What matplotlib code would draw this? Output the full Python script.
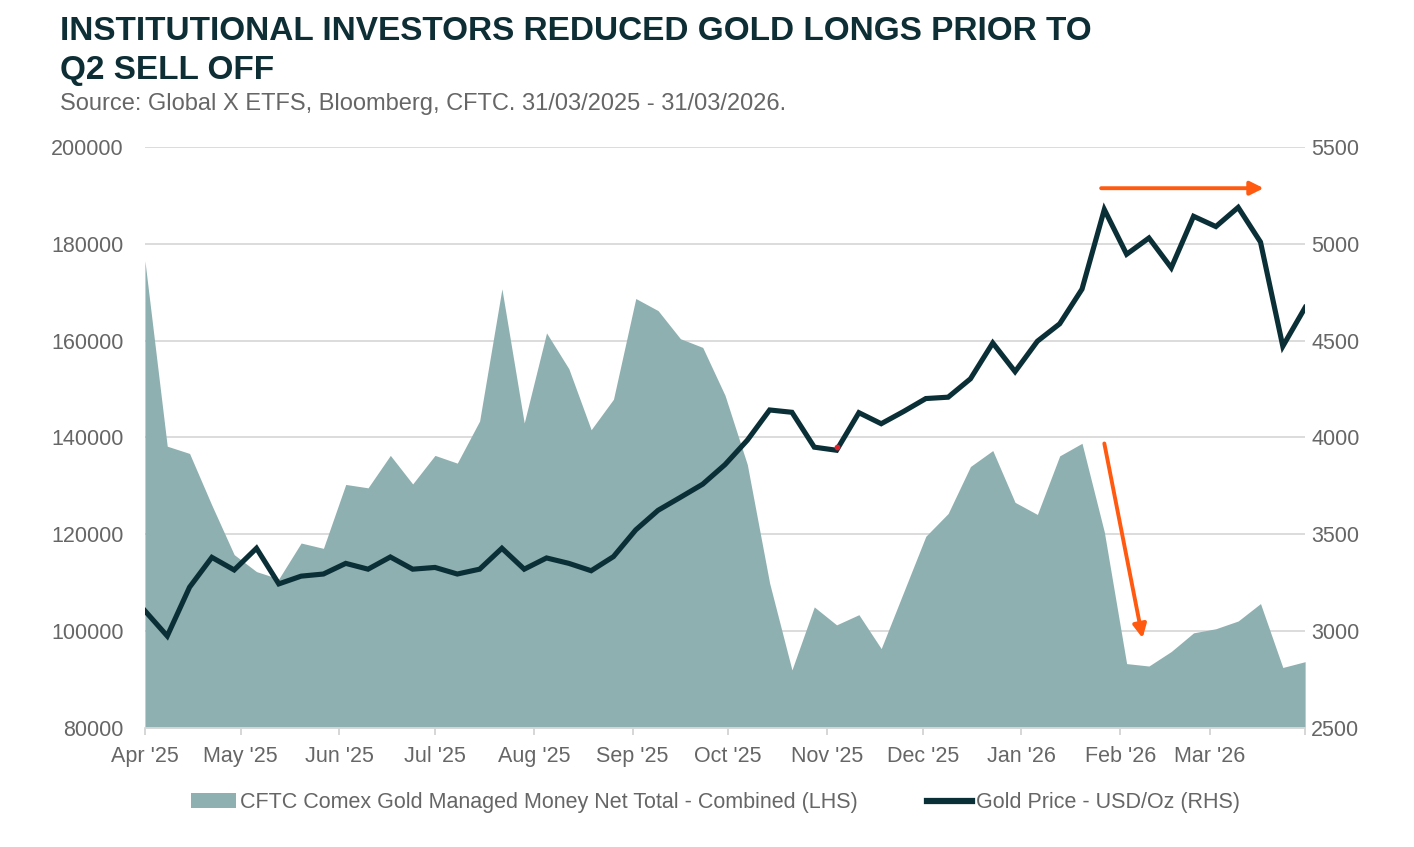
import numpy as np
import pandas as pd
import matplotlib
matplotlib.use("Agg")
import matplotlib.pyplot as plt
import matplotlib.dates as mdates
from matplotlib.patches import Patch
from matplotlib.lines import Line2D

# weekly observations, 01/04/2025 .. 31/03/2026
dates = pd.date_range("2025-04-01", periods=53, freq="7D")

net_longs = [
    176500, 138200, 136700, 126000, 115800, 112300, 110800, 118200, 117100, 130300,
    129600, 136300, 130400, 136300, 134700, 143400, 170700, 143000, 161600, 154200,
    141600, 147900, 168700, 166200, 160400, 158600, 148700, 134400, 109900, 92000,
    105000, 101300, 103400, 96400, 108000, 119600, 124300, 134000, 137300, 126600,
    124100, 136200, 138800, 120500, 93300, 92800, 95800, 99650, 100500, 102100,
    105700, 92500, 93700,
]

gold_price = [
    3105, 2975, 3227, 3381, 3316, 3428, 3244, 3284, 3295, 3350,
    3320, 3383, 3320, 3329, 3295, 3320, 3428, 3320, 3378, 3350,
    3312, 3385, 3523, 3624, 3691, 3759, 3860, 3986, 4142, 4130,
    3950, 3934, 4128, 4071, 4134, 4201, 4208, 4303, 4488, 4340,
    4497, 4587, 4766, 5177, 4946, 5030, 4876, 5142, 5089, 5188,
    5009, 4471, 4671,
]

left_ticks = [80000, 100000, 120000, 140000, 160000, 180000, 200000]
right_ticks = [2500, 3000, 3500, 4000, 4500, 5000, 5500]

AREA = "#8FB0B0"
LINE = "#0B2F36"
ORANGE = "#FF5A10"
TXT = "#666666"
TITLE = "#0E2E35"

plt.rcParams["font.family"] = ["Liberation Sans", "DejaVu Sans"]

fig = plt.figure(figsize=(14.14, 8.47), dpi=100)
ax = fig.add_axes([0.1025, 0.1405, 0.8205, 0.686])
ax2 = ax.twinx()

ax.fill_between(dates, net_longs, 80000, color=AREA, lw=0, zorder=2)
ax2.plot(dates, gold_price, color=LINE, lw=3.7, solid_joinstyle="miter", zorder=3)
# tiny red blip sitting on the line near early Nov
ax2.scatter([pd.Timestamp("2025-11-04")], [3952], s=10, color="#E0202A", zorder=4)

ax.set_xlim(pd.Timestamp("2025-04-01"), pd.Timestamp("2026-03-31"))
ax.set_ylim(80000, 200000)
ax2.set_ylim(2500, 5500)
ax.set_yticks(left_ticks)
ax2.set_yticks(right_ticks)
ax.grid(axis="y", color="#D9D9D9", lw=1.3, zorder=0)
ax.set_axisbelow(True)

ax.xaxis.set_major_locator(mdates.MonthLocator())
ax.xaxis.set_major_formatter(mdates.DateFormatter("%b '%y"))
ax.set_xticks([pd.Timestamp("2026-03-31")], minor=True)

for a in (ax, ax2):
    for s in a.spines.values():
        s.set_visible(False)
ax.spines["bottom"].set_visible(True)
ax.spines["bottom"].set_color("#D9D9D9")
ax.spines["bottom"].set_linewidth(1.3)

ax.tick_params(axis="x", which="both", length=5, width=1.2, color="#D0D0D0",
               labelsize=15.5, labelcolor=TXT, pad=8)
ax.tick_params(axis="y", length=0, labelsize=15.5, labelcolor=TXT, pad=15.5)
ax2.tick_params(axis="y", length=0, labelsize=15.5, labelcolor=TXT, pad=4.5)

# annotation arrows (drawn on gold price axis)
arrow_kw = dict(arrowstyle="-|>", color=ORANGE, lw=2.8, mutation_scale=20,
                shrinkA=0, shrinkB=0)
ax2.annotate("", xy=(pd.Timestamp("2026-03-18"), 5287),
             xytext=(pd.Timestamp("2026-01-26"), 5287), arrowprops=arrow_kw, zorder=5)
ax2.annotate("", xy=(pd.Timestamp("2026-02-08"), 2964),
             xytext=(pd.Timestamp("2026-01-27"), 3969), arrowprops=arrow_kw, zorder=5)

title_kw = dict(fontsize=24, fontweight="bold", color=TITLE, va="center", ha="left")
fig.text(0.0425, 1 - 31 / 847, "INSTITUTIONAL INVESTORS REDUCED GOLD LONGS PRIOR TO", **title_kw)
fig.text(0.0425, 1 - 70 / 847, "Q2 SELL OFF", **title_kw)
fig.text(0.0425, 1 - 104 / 847, "Source: Global X ETFS, Bloomberg, CFTC. 31/03/2025 - 31/03/2026.",
         fontsize=17, color=TXT, va="center", ha="left")

handles = [Patch(facecolor=AREA, edgecolor="none"),
           Line2D([0], [0], color=LINE, lw=4.5)]
labels = ["CFTC Comex Gold Managed Money Net Total - Combined (LHS)",
          "Gold Price - USD/Oz (RHS)"]
leg = fig.legend(handles, labels, loc="center", bbox_to_anchor=(0.506, 0.052), ncol=2,
                 frameon=False, fontsize=15.5, handlelength=2.1, handleheight=0.7,
                 handletextpad=0.2, columnspacing=3.2)
for t in leg.get_texts():
    t.set_color(TXT)

fig.savefig("out.png", dpi=100)
